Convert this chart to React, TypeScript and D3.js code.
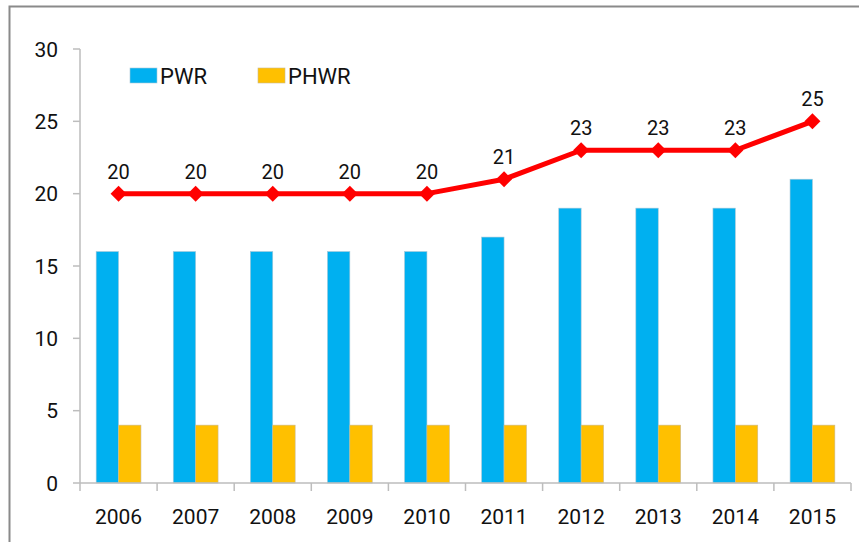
import React from "react";
import * as d3 from "d3";

const years = ["2006", "2007", "2008", "2009", "2010", "2011", "2012", "2013", "2014", "2015"];
const pwr = [16, 16, 16, 16, 16, 17, 19, 19, 19, 21];
const phwr = [4, 4, 4, 4, 4, 4, 4, 4, 4, 4];
const total = [20, 20, 20, 20, 20, 21, 23, 23, 23, 25];
const yTicks = [0, 5, 10, 15, 20, 25, 30];

const W = 859;
const H = 542;
const FONT = "Roboto, 'Noto Sans', sans-serif";

export default function App() {
  const x = d3.scaleBand<string>().domain(years).range([80, 851]);
  const y = d3.scaleLinear().domain([0, 30]).range([483, 49]);
  const barW = 22.4;
  const line = d3
    .line<number>()
    .x((_, i) => (x(years[i]) as number) + x.bandwidth() / 2)
    .y((d) => y(d))
    .curve(d3.curveLinear);

  const textColor = "#111111";
  const axisColor = "#bdbdbd";

  return (
    <svg
      width={W}
      height={H}
      style={{ position: "absolute", left: 0, top: 0, background: "#fff" }}
      fontFamily={FONT}
    >
      {/* frame */}
      <path d={`M9.5,${H} L9.5,6.5 L${W},6.5`} fill="none" stroke="#8a8a8a" strokeWidth={2} />

      {/* y axis */}
      <line x1={80} x2={80} y1={y(30)} y2={y(0)} stroke={axisColor} strokeWidth={1.5} />
      {yTicks.map((t) => (
        <g key={t}>
          <line x1={73} x2={80} y1={y(t)} y2={y(t)} stroke={axisColor} strokeWidth={1.5} />
          <text x={58} y={y(t)} dy="0.36em" textAnchor="end" fontSize={21} fill={textColor}>
            {t}
          </text>
        </g>
      ))}

      {/* bars */}
      {years.map((yr, i) => {
        const cx = (x(yr) as number) + x.bandwidth() / 2;
        return (
          <g key={yr}>
            <rect
              x={cx - barW}
              y={y(pwr[i])}
              width={barW}
              height={y(0) - y(pwr[i])}
              fill="#00B0F0"
              stroke="#a8c8d8"
              strokeWidth={0.6}
            />
            <rect
              x={cx}
              y={y(phwr[i])}
              width={barW}
              height={y(0) - y(phwr[i])}
              fill="#FFC000"
              stroke="#c8b890"
              strokeWidth={0.6}
            />
          </g>
        );
      })}

      {/* x axis */}
      <line x1={80} x2={851} y1={y(0)} y2={y(0)} stroke={axisColor} strokeWidth={1.5} />
      {[...years.map((yr) => x(yr) as number), 851].map((px, i) => (
        <line key={i} x1={px} x2={px} y1={y(0)} y2={y(0) + 8} stroke={axisColor} strokeWidth={1.5} />
      ))}
      {years.map((yr) => (
        <text
          key={yr}
          x={(x(yr) as number) + x.bandwidth() / 2}
          y={524}
          textAnchor="middle"
          fontSize={21}
          fill={textColor}
        >
          {yr}
        </text>
      ))}

      {/* total line */}
      <path d={line(total) || ""} fill="none" stroke="#FF0000" strokeWidth={5} strokeLinejoin="round" />
      {total.map((v, i) => {
        const cx = (x(years[i]) as number) + x.bandwidth() / 2;
        const cy = y(v);
        return (
          <g key={i}>
            <path
              d={`M${cx},${cy - 8} L${cx + 8},${cy} L${cx},${cy + 8} L${cx - 8},${cy} Z`}
              fill="#FF0000"
            />
            <text x={cx} y={cy - 15} textAnchor="middle" fontSize={20} fill={textColor}>
              {v}
            </text>
          </g>
        );
      })}

      {/* legend */}
      <rect x={130} y={68} width={27} height={15} fill="#00B0F0" stroke="#a8c8d8" strokeWidth={0.6} />
      <text x={160} y={84} fontSize={22} fill={textColor}>
        PWR
      </text>
      <rect x={258} y={68} width={27} height={15} fill="#FFC000" stroke="#c8b890" strokeWidth={0.6} />
      <text x={288} y={84} fontSize={22} fill={textColor}>
        PHWR
      </text>
    </svg>
  );
}
